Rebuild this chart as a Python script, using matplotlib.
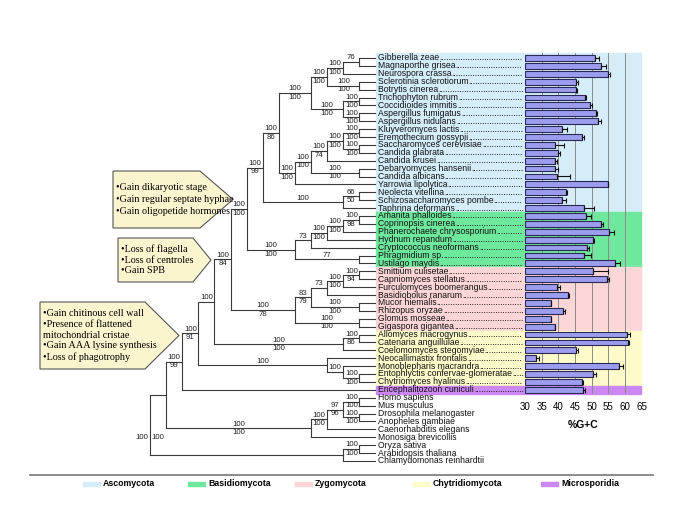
import matplotlib.pyplot as plt
from matplotlib.patches import Rectangle, Polygon

plt.rcParams['font.family'] = ['Liberation Sans', 'DejaVu Sans']

# taxa, top to bottom as in the tree
taxa = [
    'Gibberella zeae', 'Magnaporthe grisea', 'Neurospora crassa',
    'Sclerotinia sclerotiorum', 'Botrytis cinerea', 'Trichophyton rubrum',
    'Coccidioides immitis', 'Aspergillus fumigatus', 'Aspergillus nidulans',
    'Kluyveromyces lactis', 'Eremothecium gossypii', 'Saccharomyces cerevisiae',
    'Candida glabrata', 'Candida krusei', 'Debaryomyces hansenii',
    'Candida albicans', 'Yarrowia lipolytica', 'Neolecta vitellina',
    'Schizosaccharomyces pombe', 'Taphrina deformans',
    'Amanita phalloides', 'Coprinopsis cinerea', 'Phanerochaete chrysosporium',
    'Hydnum repandum', 'Cryptococcus neoformans', 'Phragmidium sp.',
    'Ustilago maydis',
    'Smittium culisetae', 'Capniomyces stellatus', 'Furculomyces boomerangus',
    'Basidiobolus ranarum', 'Mucor hiemalis', 'Rhizopus oryzae',
    'Glomus mosseae', 'Gigaspora gigantea',
    'Allomyces macrogynus', 'Catenaria anguillulae', 'Coelomomyces stegomyiae',
    'Neocallimastix frontalis', 'Monoblepharis macrandra',
    'Entophlyctis confervae-glomeratae', 'Chytriomyces hyalinus',
    'Encephalitozoon cuniculi',
    'Homo sapiens', 'Mus musculus', 'Drosophila melanogaster',
    'Anopheles gambiae', 'Caenorhabditis elegans', 'Monosiga brevicollis',
    'Oryza sativa', 'Arabidopsis thaliana', 'Chlamydomonas reinhardtii',
]

groups = ['Ascomycota', 'Basidiomycota', 'Zygomycota', 'Chytridiomycota', 'Microsporidia']
group_sizes = [20, 7, 8, 7, 1]
group_colors = ['#d4edf9', '#6ee89c', '#fcd6d6', '#fdfbc9', '#cc88f2']

# %G+C of the fungi (first 43 taxa) and the upper error
gc_mean = [51.1, 52.9, 54.8, 45.3, 45.3, 47.9, 49.6, 51.2, 52.0, 41.1,
           47.2, 39.0, 39.9, 39.1, 39.1, 39.5, 54.8, 42.4, 41.1, 47.8,
           48.2, 52.7, 55.3, 50.3, 48.7, 47.8, 57.0,
           50.5, 54.5, 39.6, 42.8, 37.8, 41.4, 37.8, 39.0,
           60.7, 60.8, 45.4, 33.4, 58.3, 50.5, 47.1,
           47.3]
gc_err = [1.2, 1.3, 0.8, 0.7, 0.3, 0.4, 0.6, 0.5, 0.9, 1.4,
          0.6, 2.7, 0.6, 0.6, 0.8, 4.0, 0.2, 0.3, 1.3, 2.8,
          1.5, 0.7, 1.3, 0.3, 0.6, 1.9, 1.4,
          4.3, 0.7, 0.8, 0.3, 0.1, 0.6, 0.1, 0.1,
          0.7, 0.3, 0.6, 0.8, 1.0, 0.7, 0.3,
          0.7]
gc_ticks = [30, 35, 40, 45, 50, 55, 60, 65]


def n(level, top, bottom, *kids):
    return {'level': level, 'top': top, 'bottom': bottom, 'kids': kids}


# tree: node rank from the tips, bootstrap labels (above / below the branch)
sordario = n(2, '100', '100', n(1, '76', '', 'Gibberella zeae', 'Magnaporthe grisea'), 'Neurospora crassa')
leotio = n(1, '100', '100', 'Sclerotinia sclerotiorum', 'Botrytis cinerea')
eurotio = n(2, '100', '100',
            n(1, '100', '100', 'Trichophyton rubrum', 'Coccidioides immitis'),
            n(1, '100', '100', 'Aspergillus fumigatus', 'Aspergillus nidulans'))
pezizo = n(4, '100', '100', n(3, '100', '100', sordario, leotio), eurotio)
sacch = n(5, '100', '100',
          n(4, '100', '100',
            n(3, '100', '74',
              n(2, '100', '100',
                n(1, '100', '100', 'Kluyveromyces lactis', 'Eremothecium gossypii'),
                n(1, '100', '100', 'Saccharomyces cerevisiae', 'Candida glabrata')),
              'Candida krusei'),
            n(1, '100', '100', 'Debaryomyces hansenii', 'Candida albicans')),
          'Yarrowia lipolytica')
taphrino = n(2, '100', '', n(1, '66', '50', 'Neolecta vitellina', 'Schizosaccharomyces pombe'),
             'Taphrina deformans')
asco = n(7, '100', '99', n(6, '100', '86', pezizo, sacch), taphrino)
basidio = n(5, '100', '100',
            n(4, '73', '',
              n(3, '100', '100',
                n(2, '100', '100',
                  n(1, '100', '98', 'Amanita phalloides', 'Coprinopsis cinerea'),
                  'Phanerochaete chrysosporium'),
                'Hydnum repandum'),
              'Cryptococcus neoformans'),
            n(1, '77', '', 'Phragmidium sp.', 'Ustilago maydis'))
zygo = n(5, '100', '78',
         n(4, '83', '79',
           n(3, '73', '',
             n(2, '100', '100',
               n(1, '100', '94', 'Smittium culisetae', 'Capniomyces stellatus'),
               'Furculomyces boomerangus'),
             'Basidiobolus ranarum'),
           n(1, '100', '100', 'Mucor hiemalis', 'Rhizopus oryzae')),
         n(1, '100', '100', 'Glomus mosseae', 'Gigaspora gigantea'))
blasto = n(2, '100', '100', n(1, '100', '86', 'Allomyces macrogynus', 'Catenaria anguillulae'),
           'Coelomomyces stegomyiae')
chytrid = n(3, '100', '',
            'Neocallimastix frontalis',
            n(2, '100', '', 'Monoblepharis macrandra',
              n(1, '100', '100', 'Entophlyctis confervae-glomeratae', 'Chytriomyces hyalinus')))
fungi = n(12, '100', '99',
          n(11, '100', '91',
            n(10, '100', '', n(9, '100', '84', n(8, '100', '100', asco, basidio), zygo), blasto),
            chytrid),
          'Encephalitozoon cuniculi')
holozoa = n(4, '100', '100',
            n(3, '100', '100',
              n(2, '97', '96',
                n(1, '100', '100', 'Homo sapiens', 'Mus musculus'),
                n(1, '100', '100', 'Drosophila melanogaster', 'Anopheles gambiae')),
              'Caenorhabditis elegans'),
            'Monosiga brevicollis')
plants = n(2, '', '', n(1, '100', '100', 'Oryza sativa', 'Arabidopsis thaliana'),
           'Chlamydomonas reinhardtii')
tree = n(14, '', '', n(13, '', '', fungi, holozoa), plants)

callouts = [
    ['\u2022Gain dikaryotic stage', '\u2022Gain regular septate hyphae', '\u2022Gain oligopetide hormones'],
    ['\u2022Loss of flagella', '\u2022Loss of centroles', '\u2022Gain SPB'],
    ['\u2022Gain chitinous cell wall', '\u2022Presence of flattened', 'mitochondrial cristae',
     '\u2022Gain AAA lysine synthesis', '\u2022Loss of phagotrophy'],
]

# ---- layout (pixel frame) ----
W, H = 685, 529
ROW0, STEP = 58, 7.9
TIP_X, LEVEL_W = 375.5, 16.1
BAR_L, BAR_R = 525, 641.5
LINE = '#3a3a3a'
NAME_FS = 6.2

row_y = {name: ROW0 + STEP * i for i, name in enumerate(taxa)}

fig = plt.figure(figsize=(W / 100, H / 100), dpi=100)
ax = fig.add_axes([0, 0, 1, 1])
ax.set_xlim(0, W)
ax.set_ylim(H, 0)
ax.axis('off')

# phylum bands
start = 0
for g, size, col in zip(groups, group_sizes, group_colors):
    y0 = ROW0 + STEP * (start - 0.5) - (1 if start == 0 else 0)
    y1 = ROW0 + STEP * (start + size - 0.5)
    ax.add_patch(Rectangle((TIP_X + 1, y0), BAR_R - TIP_X - 1, y1 - y0, color=col, zorder=0))
    start += size


def y_of(node):
    if isinstance(node, str):
        return row_y[node]
    ys = [y_of(k) for k in node['kids']]
    return (ys[0] + ys[-1]) / 2


def draw(node, parent_x):
    y = y_of(node)
    if isinstance(node, str):
        ax.plot([parent_x, TIP_X], [y, y], color=LINE, lw=0.8)
        return
    x = TIP_X - LEVEL_W * node['level']
    if parent_x is not None:
        ax.plot([parent_x, x], [y, y], color=LINE, lw=0.8)
        mid = (parent_x + x) / 2
        if node['top']:
            ax.text(mid, y - 0.6, node['top'], ha='center', va='bottom', fontsize=5.6, color='#222')
        if node['bottom']:
            ax.text(mid, y + 0.8, node['bottom'], ha='center', va='top', fontsize=5.6, color='#222')
    ys = [y_of(k) for k in node['kids']]
    ax.plot([x, x], [ys[0], ys[-1]], color=LINE, lw=0.8)
    for k in node['kids']:
        draw(k, x)


draw(tree, None)

# labels at the root
root_x = TIP_X - LEVEL_W * 14
ax.text(root_x - 1.5, row_y['Monosiga brevicollis'], '100', ha='right', va='center', fontsize=5.6, color='#222')
ax.text(root_x + LEVEL_W - 1.5, row_y['Monosiga brevicollis'], '100', ha='right', va='center', fontsize=5.6, color='#222')

# taxon names with dotted leaders up to the bar axis
renderer = fig.canvas.get_renderer()
probe = ax.text(0, 0, '.' * 20, fontsize=NAME_FS)
dot_w = probe.get_window_extent(renderer).width / 20
probe.remove()
n_bars = len(gc_mean)
name_x = TIP_X + 2.5
for i, name in enumerate(taxa):
    t = ax.text(name_x, row_y[name], name, ha='left', va='center', fontsize=NAME_FS, color='#111')
    if i < n_bars:
        w = t.get_window_extent(renderer).width
        k = int((BAR_L - 1 - name_x - w) / dot_w)
        ax.text(name_x + w, row_y[name], '.' * k, ha='left', va='center', fontsize=NAME_FS, color='#111')

# %G+C bars
bar_bottom = ROW0 + STEP * (n_bars - 0.5)
bar_top = ROW0 - STEP * 0.5 - 1
bax = fig.add_axes([BAR_L / W, 1 - bar_bottom / H, (BAR_R - BAR_L) / W, (bar_bottom - bar_top) / H])
bax.set_facecolor('none')
bax.set_xlim(gc_ticks[0], gc_ticks[-1])
bax.set_ylim(bar_bottom, bar_top)
ys = [row_y[t] for t in taxa[:n_bars]]
lefts = [gc_ticks[0]] * n_bars
bax.barh(ys, [m - gc_ticks[0] for m in gc_mean], left=lefts, height=5.8,
         color='#9d9df0', edgecolor='#2a2a55', linewidth=0.8, zorder=3)
bax.errorbar(gc_mean, ys, xerr=[[0] * n_bars, gc_err], fmt='none', ecolor='#111',
             elinewidth=0.8, capsize=1.8, capthick=0.8, zorder=4)
bax.set_xticks(gc_ticks)
bax.tick_params(axis='x', length=0, pad=6, labelsize=7)
bax.set_yticks([])
for v in gc_ticks[1:]:
    bax.axvline(v, color='#8a8a8a', lw=0.7, zorder=1)
for sp in bax.spines.values():
    sp.set_visible(False)
bax.set_xlabel('%G+C', fontsize=7.5, fontweight='bold', labelpad=6)

# callout boxes (left edge, top, bottom, shoulder, tip, line spacing)
boxes = [(113, 171, 228, 200, 233, 1.45), (118, 238, 282, 193, 211, 1.22), (40, 302, 369, 145, 179, 1.22)]
for (l, t, b, sh, tip, ls), lines in zip(boxes, callouts):
    ax.add_patch(Polygon([(l, t), (sh, t), (tip, (t + b) / 2), (sh, b), (l, b)], closed=True,
                         facecolor='#fbf5cf', edgecolor='#555', lw=0.8, zorder=2))
    ax.text(l + 3, (t + b) / 2, '\n'.join(lines), ha='left', va='center', fontsize=7.3,
            family='Liberation Serif', linespacing=ls, zorder=3)

# legend
ax.plot([30, 653], [475, 475], color='#777', lw=1.2)
for g, col, lx in zip(groups, group_colors, [83, 188, 295, 413, 541]):
    ax.add_patch(Rectangle((lx, 482), 17, 4, color=col))
    ax.text(lx + 20, 484, g, ha='left', va='center', fontsize=6.3, fontweight='bold')

fig.savefig('out.png', dpi=100)
